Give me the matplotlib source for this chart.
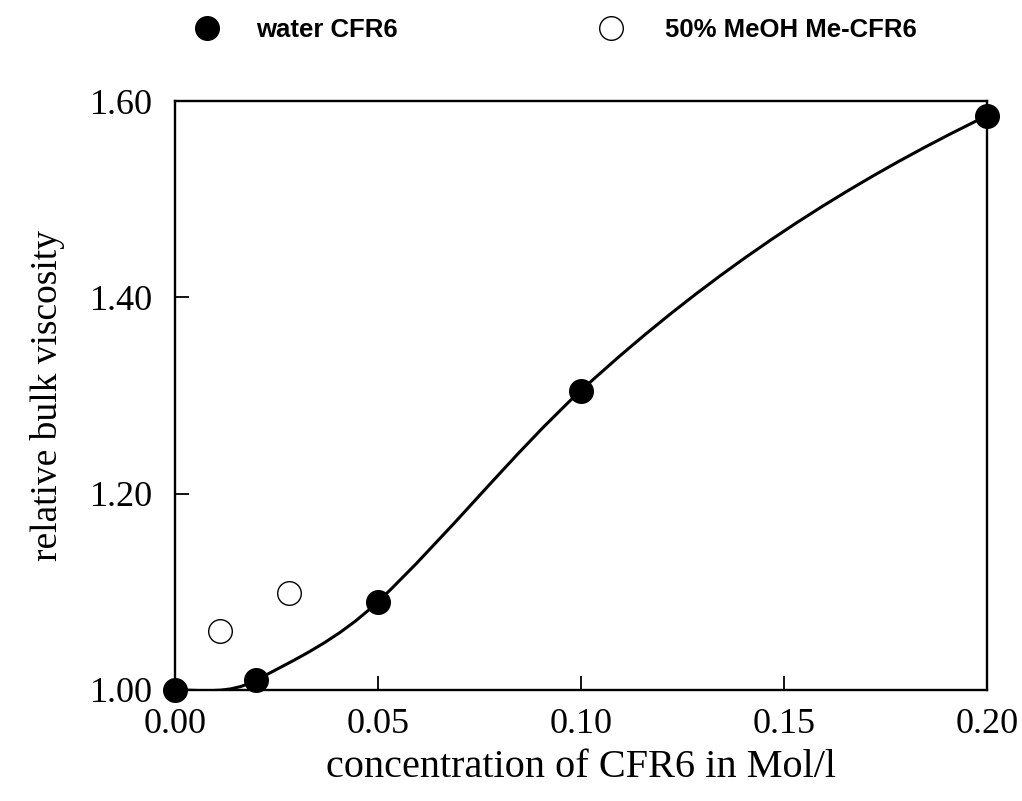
import matplotlib
matplotlib.use("Agg")
import matplotlib.pyplot as plt
from matplotlib.path import Path
from matplotlib.patches import PathPatch

# water CFR6 (filled), 50% MeOH Me-CFR6 (open)
water_x = [0.00, 0.02, 0.05, 0.10, 0.20]
water_y = [1.000, 1.010, 1.090, 1.305, 1.585]
# slope of the drawn smooth curve at each water point
water_slope = [0.0, 2.2, 3.9, 3.8, 2.0]
meoh_x = [0.011, 0.028]
meoh_y = [1.060, 1.099]

xticks = [0.00, 0.05, 0.10, 0.15, 0.20]
yticks = [1.00, 1.20, 1.40, 1.60]

plt.rcParams.update({
    "font.family": "serif",
    "font.serif": ["Liberation Serif", "DejaVu Serif"],
})


def smooth_path(xs, ys, ms):
    # cubic Hermite pieces written as Bezier segments
    verts = [(xs[0], ys[0])]
    codes = [Path.MOVETO]
    for i in range(len(xs) - 1):
        dx = xs[i + 1] - xs[i]
        verts += [(xs[i] + dx / 3, ys[i] + ms[i] * dx / 3),
                  (xs[i + 1] - dx / 3, ys[i + 1] - ms[i + 1] * dx / 3),
                  (xs[i + 1], ys[i + 1])]
        codes += [Path.CURVE4] * 3
    return Path(verts, codes)


fig = plt.figure(figsize=(10.22, 8.01), dpi=100)
ax = fig.add_axes([0.1712, 0.1386, 0.7946, 0.7353])

ax.add_patch(PathPatch(smooth_path(water_x, water_y, water_slope), fill=False,
                       lw=2.2, ec="black", zorder=2))
ax.plot(water_x, water_y, "o", ms=17, mfc="black", mec="black",
        clip_on=False, zorder=3)
ax.plot(meoh_x, meoh_y, "o", ms=17, mfc="white", mec="black", mew=1.0,
        clip_on=False, zorder=3)

ax.set_xlim(0, 0.20)
ax.set_ylim(1.0, 1.6)
ax.set_xticks(xticks)
ax.set_xticklabels([f"{v:.2f}" for v in xticks])
ax.set_yticks(yticks)
ax.set_yticklabels([f"{v:.2f}" for v in yticks])
ax.tick_params(direction="in", length=10, width=1.3, labelsize=26)
ax.tick_params(axis="x", pad=13)
ax.tick_params(axis="y", pad=16)
for s in ax.spines.values():
    s.set_linewidth(1.7)

ax.set_xlabel("concentration of CFR6 in Mol/l", fontsize=29, labelpad=6)
ax.set_ylabel("relative bulk viscosity", fontsize=27, labelpad=18)

# legend drawn above the axes
leg_font = dict(fontsize=18.5, fontweight="bold",
                family=["Liberation Sans Narrow", "Liberation Sans", "DejaVu Sans"],
                va="center", ha="left")
fig.lines.append(plt.Line2D([207 / 1022], [1 - 28 / 801], marker="o", ms=17,
                            mfc="black", mec="black", transform=fig.transFigure))
fig.lines.append(plt.Line2D([611 / 1022], [1 - 28 / 801], marker="o", ms=17,
                            mfc="white", mec="black", mew=1.0,
                            transform=fig.transFigure))
fig.text(256 / 1022, 1 - 30 / 801, "water CFR6", **leg_font)
fig.text(665 / 1022, 1 - 30 / 801, "50% MeOH Me-CFR6", **leg_font)

fig.savefig("out.png", dpi=100, facecolor="white")
